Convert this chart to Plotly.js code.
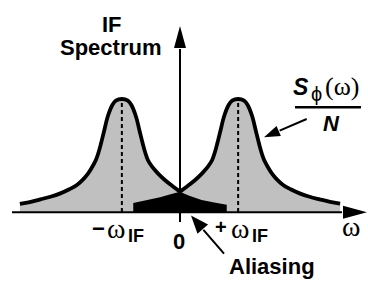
<!DOCTYPE html>
<html><head><meta charset="utf-8">
<script src="https://cdn.plot.ly/plotly-3.0.1.min.js"></script>
<style>html,body{margin:0;padding:0;background:#fff;overflow:hidden}#chart{width:368px;height:284px}</style>
</head><body><div id="chart"></div>
<script>
// x in units of ω_IF, y relative to the peak height
const leftPeakX  = [-2.809, -2.634, -2.450, -2.274, -2.099, -1.941, -1.809, -1.699, -1.611, -1.538, -1.476, -1.427, -1.385, -1.327, -1.269, -1.187, -1.125, -1.02, -0.915, -0.853, -0.771, -0.713, -0.655, -0.613, -0.564, -0.490, -0.388, -0.266, -0.134, 0];
const leftPeakY  = [0.071, 0.088, 0.112, 0.135, 0.165, 0.201, 0.239, 0.289, 0.342, 0.401, 0.460, 0.531, 0.608, 0.726, 0.843, 0.947, 0.985, 1.0, 0.985, 0.947, 0.843, 0.726, 0.608, 0.531, 0.460, 0.401, 0.342, 0.283, 0.230, 0.180];
const rightPeakX = [0, 0.134, 0.266, 0.388, 0.490, 0.564, 0.613, 0.655, 0.713, 0.771, 0.853, 0.915, 1.02, 1.125, 1.187, 1.269, 1.327, 1.385, 1.427, 1.476, 1.538, 1.611, 1.699, 1.809, 1.941, 2.099, 2.274, 2.450, 2.634, 2.809];
const rightPeakY = [0.180, 0.230, 0.283, 0.342, 0.401, 0.460, 0.531, 0.608, 0.726, 0.843, 0.947, 0.985, 1.0, 0.985, 0.947, 0.843, 0.726, 0.608, 0.531, 0.460, 0.401, 0.342, 0.289, 0.239, 0.201, 0.165, 0.135, 0.112, 0.090, 0.075];
const aliasX = [-0.82, -0.6, -0.35, -0.15, 0, 0.15, 0.38, 0.6, 0.82];
const aliasY = [0.08, 0.105, 0.13, 0.16, 0.18, 0.145, 0.106, 0.085, 0.065];
const peakCenters = [-1.02, 1.02];
const peakTops = [1, 1];

// pixel <-> data mapping of the drawing frame
const W = 368, H = 284, OX = 180, OY = 212, SX = 57, SY = 113;
const X = px => (px - OX) / SX;
const Y = py => (OY - py) / SY;

const SANS = 'Liberation Sans, Arial, sans-serif';
const SERIF = 'Liberation Serif, Times New Roman, serif';
const GRAY = '#c0c0c0';
const SPL = {shape: 'spline', smoothing: 1};

const traces = [
  {x: leftPeakX, y: leftPeakY, mode: 'lines', line: Object.assign({width: 0}, SPL), fill: 'tozeroy', fillcolor: GRAY, hoverinfo: 'skip'},
  {x: rightPeakX, y: rightPeakY, mode: 'lines', line: Object.assign({width: 0}, SPL), fill: 'tozeroy', fillcolor: GRAY, hoverinfo: 'skip'},
  {x: aliasX, y: aliasY, mode: 'lines', line: {width: 0, color: '#000'}, fill: 'tozeroy', fillcolor: '#000', hoverinfo: 'skip'},
  {x: [peakCenters[0], peakCenters[0]], y: [0, peakTops[0]], mode: 'lines', line: {color: '#000', width: 2, dash: '4px,3px'}},
  {x: [peakCenters[1], peakCenters[1]], y: [0, peakTops[1]], mode: 'lines', line: {color: '#000', width: 2, dash: '4px,3px'}},
  {x: leftPeakX, y: leftPeakY, mode: 'lines', line: Object.assign({color: '#000', width: 3.8}, SPL)},
  {x: rightPeakX, y: rightPeakY, mode: 'lines', line: Object.assign({color: '#000', width: 3.8}, SPL)}
];

function arrowShapes(tail, tip, len, half, lw) {
  const dx = tail[0] - tip[0], dy = tail[1] - tip[1];
  const L = Math.hypot(dx, dy), ux = dx / L, uy = dy / L;
  const bx = tip[0] + ux * len, by = tip[1] + uy * len;
  const c1 = [bx - uy * half, by + ux * half], c2 = [bx + uy * half, by - ux * half];
  return [
    {type: 'line', xref: 'x', yref: 'y', x0: X(tail[0]), y0: Y(tail[1]), x1: X(bx + ux), y1: Y(by + uy), line: {color: '#000', width: lw}},
    {type: 'path', xref: 'x', yref: 'y', path: `M${X(tip[0])},${Y(tip[1])}L${X(c1[0])},${Y(c1[1])}L${X(c2[0])},${Y(c2[1])}Z`, fillcolor: '#000', line: {width: 0}}
  ];
}

const shapes = [].concat(
  arrowShapes([12, 212.3], [367, 212.3], 24, 6.5, 2),
  arrowShapes([180, 222], [180, 26], 22, 6, 2),
  arrowShapes([306.7, 119], [264, 137.3], 16, 5.5, 2),
  arrowShapes([224, 253.7], [191, 215.5], 18, 7, 2),
  [{type: 'line', xref: 'x', yref: 'y', x0: X(295), x1: X(361), y0: Y(107.3), y1: Y(107.3), line: {color: '#000', width: 2.5}}]
);

function ann(px, py, text, size, family) {
  return {x: X(px), y: Y(py), xref: 'x', yref: 'y', text: text, showarrow: false,
          xanchor: 'center', yanchor: 'middle', borderpad: 0,
          font: {family: family || SANS, size: size, color: '#000'}};
}

const annotations = [
  ann(111.7, 24, '<b>IF</b>', 22),
  ann(110.5, 47, '<b>Spectrum</b>', 22),
  ann(301, 87.3, '<b><i>S</i></b>', 23),
  ann(316, 93.6, 'ϕ', 20),
  ann(341.5, 86.7, '(ω)', 26, SERIF),
  ann(331, 123, '<b><i>N</i></b>', 22),
  ann(98, 228.5, '<b>−</b>', 22),
  ann(115.5, 228.5, 'ω', 28, SERIF),
  ann(136.3, 235.7, '<b>IF</b>', 18),
  ann(179, 241.5, '<b>0</b>', 22),
  ann(221.3, 227, '<b>+</b>', 20),
  ann(239.7, 228.5, 'ω', 28, SERIF),
  ann(259.7, 235.7, '<b>IF</b>', 18),
  ann(350.7, 226.5, 'ω', 28, SERIF),
  ann(271.5, 266, '<b>Aliasing</b>', 22)
];

const layout = {
  width: W, height: H, margin: {l: 0, r: 0, t: 0, b: 0, pad: 0},
  paper_bgcolor: '#fff', plot_bgcolor: '#fff', showlegend: false,
  xaxis: {range: [X(0), X(W)], visible: false, fixedrange: true},
  yaxis: {range: [Y(H), Y(0)], visible: false, fixedrange: true},
  shapes: shapes, annotations: annotations
};

Plotly.newPlot('chart', traces, layout, {displayModeBar: false, staticPlot: true});
</script></body></html>
